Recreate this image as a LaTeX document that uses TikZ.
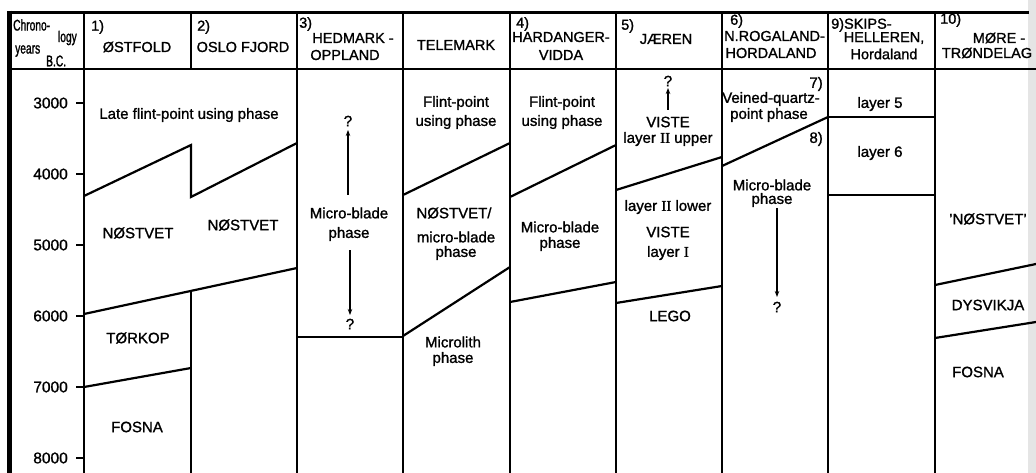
\documentclass[tikz,border=0pt]{standalone}
\usepackage{fontspec}
\setmainfont[FakeBold=1.2]{Liberation Sans}
\newfontfamily\condfont[FakeStretch=0.66,FakeBold=1.2]{Liberation Sans}
\newfontfamily\romfont[FakeBold=1.2]{Liberation Serif}
\usetikzlibrary{arrows.meta}
\newcommand{\rmII}{{\romfont II}}
\newcommand{\rmI}{{\romfont I}}
\begin{document}
\begin{tikzpicture}[x=1pt,y=-1pt,
  gridline/.style={draw=black, line width=1.8pt},
  bound/.style={draw=black, line width=2.2pt, line join=miter},
  border/.style={draw=black, line width=5pt},
  topb/.style={draw=black, line width=3.6pt},
  lbl/.style={inner sep=0pt, font=\fontsize{15}{17}\selectfont},
  hdr/.style={inner sep=0pt, font=\fontsize{14.5}{16}\selectfont},
  chr/.style={inner sep=0pt, font=\fontsize{15.5}{16}\condfont},
  yr/.style={inner sep=0pt, anchor=east, font=\fontsize{15.5}{17}\selectfont},
  arr/.style={draw=black, line width=1.1pt, -{Stealth[length=6pt,width=4.5pt]}}
]
\useasboundingbox (0,0) rectangle (1036,473);
\fill[white] (0,0) rectangle (1036,473);
\fill[black, opacity=0.10] (1028,0) rectangle (1036,473);

% frame and grid
\draw[border] (9.5,10.7) -- (9.5,473);
\draw[topb] (7,12.5) -- (1029,12.5);
\draw[gridline] (7,69) -- (1036,69);
\foreach \x in {84,297,403,510,616,722,828,935}
  \draw[gridline] (\x,12) -- (\x,473);
\draw[gridline] (191,12) -- (191,69);
\draw[gridline] (191,291) -- (191,473);

% time axis
\foreach \t/\y in {3000/103,4000/174,5000/245,6000/316,7000/387,8000/458}{
  \draw[gridline] (76,\y) -- (84,\y);
  \node[yr] (y\t) at (68,\y) {\t};
}

% header: chronology
\node[chr, anchor=west] (chrono) at (13,25) {Chrono-};
\node[chr, anchor=east] (logy) at (77,38) {logy};
\node[chr, anchor=west] (years) at (15,51) {years};
\node[chr, anchor=west] (bc) at (46,62) {\underline{B.C.}};

% header: regions
\node[hdr, anchor=west] (n1) at (91,27) {1)};
\node[hdr] (h1) at (137,47) {ØSTFOLD};
\node[hdr, anchor=west] (n2) at (197,27) {2)};
\node[hdr] (h2) at (243,47) {OSLO FJORD};
\node[hdr, anchor=west] (n3) at (299,24) {3)};
\node[hdr] (h3a) at (353,38) {HEDMARK -};
\node[hdr] (h3b) at (345,55) {OPPLAND};
\node[hdr] (h3c) at (456,45) {TELEMARK};
\node[hdr, anchor=west] (n4) at (516,24) {4)};
\node[hdr] (h4a) at (561,37) {HARDANGER-};
\node[hdr] (h4b) at (561,55) {VIDDA};
\node[hdr, anchor=west] (n5) at (621,26) {5)};
\node[hdr] (h5) at (666,39) {JÆREN};
\node[hdr, anchor=west] (n6) at (730,21) {6)};
\node[hdr, anchor=west] (h6a) at (724,36) {N.ROGALAND-};
\node[hdr] (h6b) at (771,53) {HORDALAND};
\node[hdr, anchor=west] (h9a) at (831,25) {9)SKIPS-};
\node[hdr] (h9b) at (884,38) {HELLEREN,};
\node[hdr] (h9c) at (884,54) {Hordaland};
\node[hdr, anchor=west] (n10) at (940,20) {10)};
\node[hdr] (h10a) at (999,38) {MØRE -};
\node[hdr] (h10b) at (987,53) {TRØNDELAG};

% phase boundaries
\draw[bound] (84,196) -- (191,145) -- (191,197) -- (297,143);
\draw[bound] (84,314) -- (297,268);
\draw[bound] (84,387) -- (191,368);
\draw[bound] (297,337) -- (403,337);
\draw[bound] (403,195) -- (510,143);
\draw[bound] (403,336) -- (510,267);
\draw[bound] (510,197) -- (616,145);
\draw[bound] (510,302) -- (616,282);
\draw[bound] (616,190) -- (722,157);
\draw[bound] (616,303) -- (722,286);
\draw[bound] (722,166) -- (828,117);
\draw[bound] (828,117) -- (935,117);
\draw[bound] (828,195) -- (935,195);
\draw[bound] (935,285) -- (1036,264);
\draw[bound] (935,338) -- (1036,322);

% Østfold / Oslo fjord
\node[lbl] (late) at (189,115) {Late flint-point using phase};
\node[lbl] (nos1) at (138,233) {NØSTVET};
\node[lbl] (nos2) at (243,225) {NØSTVET};
\node[lbl] (tork) at (138,338) {TØRKOP};
\node[lbl] (fos1) at (137,427) {FOSNA};

% Hedmark-Oppland
\node[lbl] (hq1) at (348,121) {?};
\node[lbl] (hmb) at (349,213) {Micro-blade};
\node[lbl] (hph) at (349,234) {phase};
\node[lbl] (hq2) at (350,324) {?};
\coordinate (ha1) at (348,195);
\coordinate (ha2) at (348,130);
\coordinate (ha3) at (350,250);
\coordinate (ha4) at (350,315);
\draw[arr] (ha1) -- (ha2);
\draw[arr] (ha3) -- (ha4);

% Telemark
\node[lbl] (tf1) at (456,103) {Flint-point};
\node[lbl] (tf2) at (456,122) {using phase};
\node[lbl] (tn1) at (454,213) {NØSTVET/};
\node[lbl] (tn2) at (456,237) {micro-blade};
\node[lbl] (tn3) at (456,253) {phase};
\node[lbl] (tm1) at (453,342) {Microlith};
\node[lbl] (tm2) at (453,359) {phase};

% Hardangervidda
\node[lbl] (vf1) at (562,103) {Flint-point};
\node[lbl] (vf2) at (562,122) {using phase};
\node[lbl] (vm1) at (560,227) {Micro-blade};
\node[lbl] (vm2) at (560,244) {phase};

% Jæren
\node[lbl] (jq) at (668,81) {?};
\coordinate (ja1) at (668,110);
\coordinate (ja2) at (668,88);
\draw[arr] (ja1) -- (ja2);
\node[lbl] (jv1) at (668,122) {VISTE};
\node[lbl] (jv2) at (668,139) {layer \rmII{} upper};
\node[lbl] (jl1) at (668,207) {layer \rmII{} lower};
\node[lbl] (jl2) at (668,232) {VISTE};
\node[lbl] (jl3) at (668,253) {layer \rmI};
\node[lbl] (lego) at (670,316) {LEGO};

% N. Rogaland - Hordaland
\node[lbl, anchor=east] (r7) at (823,84) {7)};
\node[lbl] (rv1) at (771,99) {Veined-quartz-};
\node[lbl] (rv2) at (769,115) {point phase};
\node[lbl, anchor=east] (r8) at (823,139) {8)};
\node[lbl] (rm1) at (772,185) {Micro-blade};
\node[lbl] (rm2) at (772,200) {phase};
\coordinate (ra1) at (777,208);
\coordinate (ra2) at (777,297);
\draw[arr] (ra1) -- (ra2);
\node[lbl] (rq) at (777,307) {?};

% Skipshelleren
\node[lbl] (sl5) at (880,104) {layer 5};
\node[lbl] (sl6) at (880,153) {layer 6};

% Møre-Trøndelag
\node[lbl] (mn) at (988,219) {'NØSTVET'};
\node[lbl] (md) at (988,305) {DYSVIKJA};
\node[lbl] (mf) at (978,372) {FOSNA};
\end{tikzpicture}
\end{document}
